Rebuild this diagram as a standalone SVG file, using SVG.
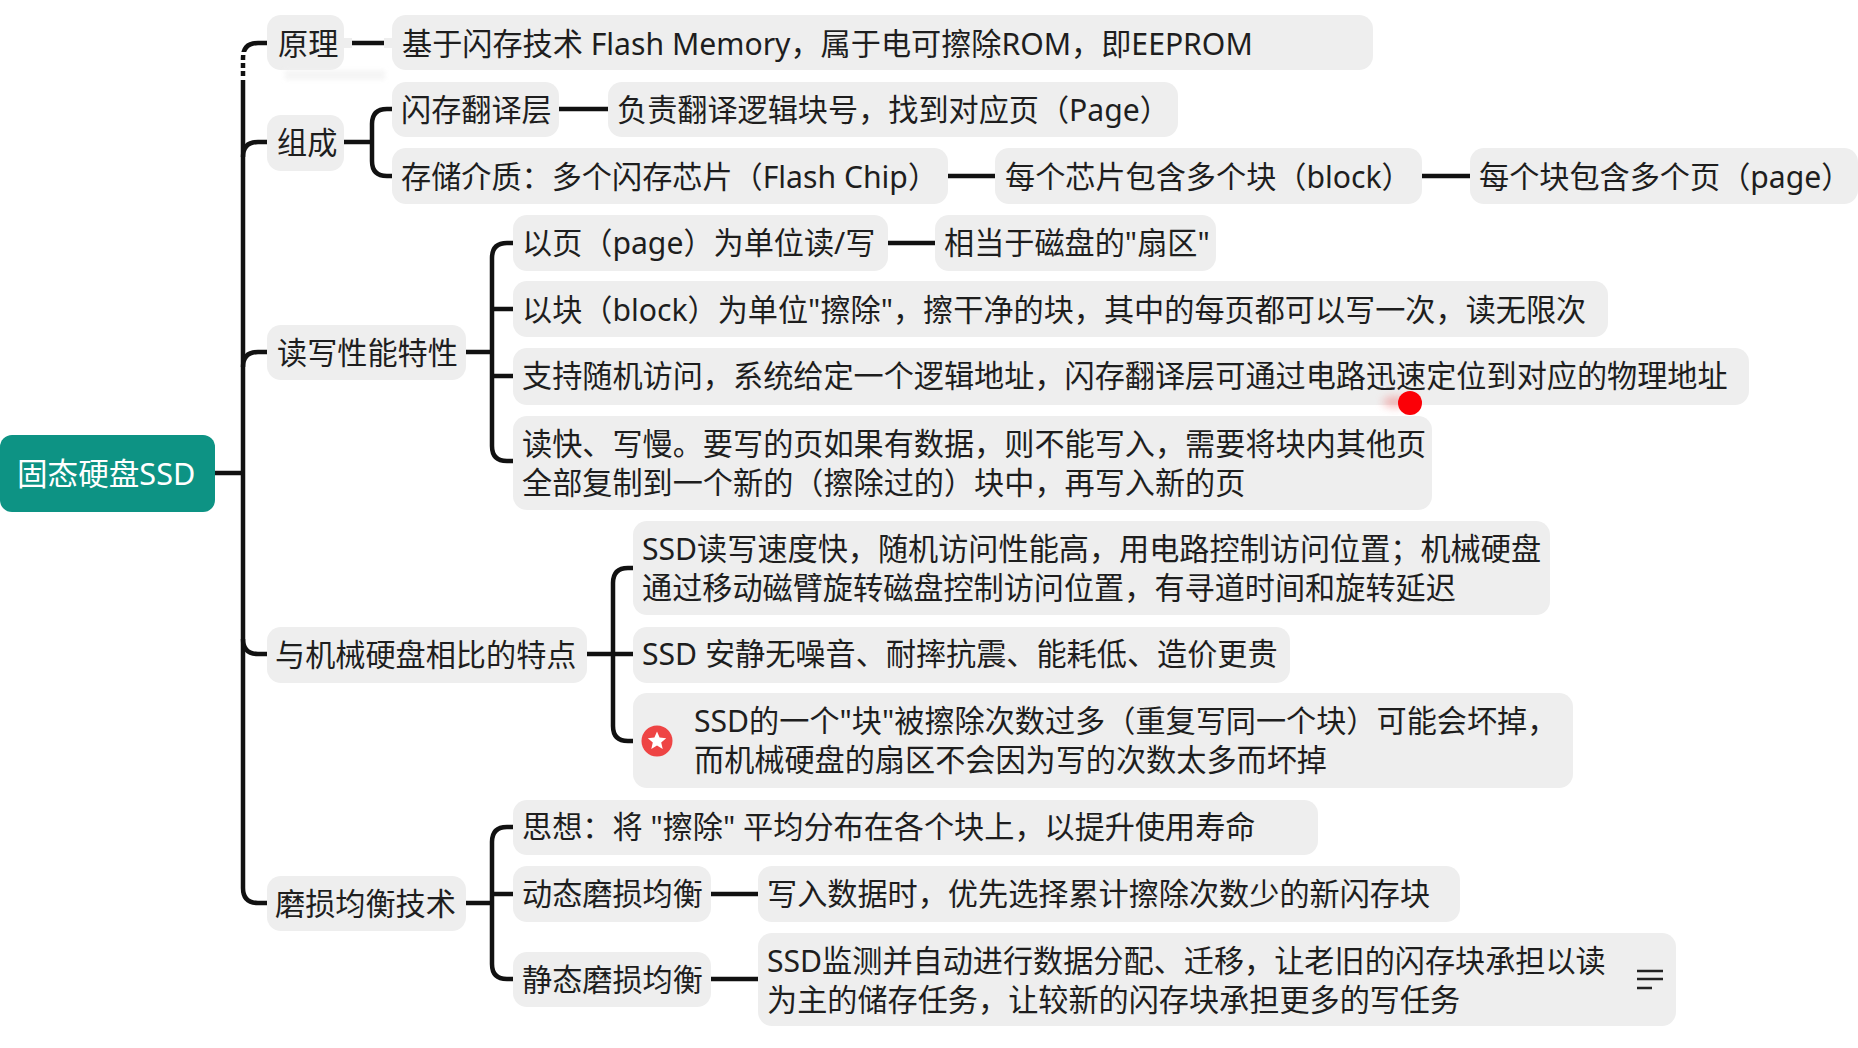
<svg xmlns="http://www.w3.org/2000/svg" width="1858" height="1048" viewBox="0 0 1858 1048">
<defs>
<style>
.n{fill:#eeeeee}
.t{font-family:"Noto Sans","Noto Sans CJK SC",sans-serif;font-size:30.15px;fill:#1e1e1e}
.c{fill:none;stroke:#111111;stroke-width:4.5;stroke-linecap:butt}
</style>
<filter id="b" x="-30%" y="-100%" width="160%" height="300%"><feGaussianBlur stdDeviation="4"/></filter>
<filter id="b2" x="-20%" y="-50%" width="140%" height="200%"><feGaussianBlur stdDeviation="2"/></filter>
</defs>
<rect width="1858" height="1048" fill="#ffffff"/>
<g id="connectors" class="c">
<path d="M215 473H243"/>
<path d="M267 43H258Q243 43 243 58V888Q243 903 258 903H267"/>
<path d="M243 157Q243 142 258 142H267"/>
<path d="M243 367Q243 352 258 352H267"/>
<path d="M243 639Q243 654 258 654H267"/>
<path d="M344 43H392"/>
<path d="M344 142H372"/>
<path d="M392 109H387Q372 109 372 124V161Q372 176 387 176H392"/>
<path d="M559 109H608"/>
<path d="M948 176H995"/>
<path d="M1422 176H1470"/>
<path d="M466 352H492"/>
<path d="M513 243H507Q492 243 492 258V446Q492 461 507 461H513"/>
<path d="M492 309H513M492 376H513"/>
<path d="M888 243H935"/>
<path d="M587 654H633"/>
<path d="M633 568H628Q613 568 613 583V726Q613 741 628 741H633"/>
<path d="M466 903H492"/>
<path d="M513 827H507Q492 827 492 842V964Q492 979 507 979H513"/>
<path d="M492 894H513"/>
<path d="M711 894H758"/>
<path d="M711 979H758"/>
</g>
<g id="root"><rect x="0" y="435" width="215" height="77" rx="12" fill="#0d9384"/><text x="17" y="485" class="t" style="fill:#ffffff;font-size:30.6px">固态硬盘SSD</text></g>
<g id="n1"><rect class="n" x="267" y="15" width="77" height="55" rx="14"/><text class="t" x="278" y="55">原理</text></g>
<g id="n2"><rect class="n" x="392" y="15" width="981" height="55" rx="14"/><text class="t" x="402" y="55">基于闪存技术 Flash Memory，属于电可擦除ROM，即EEPROM</text></g>
<g id="n3"><rect class="n" x="267" y="115" width="77" height="56" rx="14"/><text class="t" x="277" y="154">组成</text></g>
<g id="n4"><rect class="n" x="392" y="82" width="167" height="55" rx="14"/><text class="t" x="401" y="121">闪存翻译层</text></g>
<g id="n5"><rect class="n" x="608" y="82" width="570" height="55" rx="14"/><text class="t" x="617" y="121">负责翻译逻辑块号，找到对应页（Page）</text></g>
<g id="n6"><rect class="n" x="392" y="148" width="556" height="56" rx="14"/><text class="t" x="401" y="188">存储介质：多个闪存芯片（Flash Chip）</text></g>
<g id="n7"><rect class="n" x="995" y="148" width="427" height="56" rx="14"/><text class="t" x="1005" y="188">每个芯片包含多个块（block）</text></g>
<g id="n8"><rect class="n" x="1470" y="148" width="388" height="56" rx="14"/><text class="t" x="1479" y="188">每个块包含多个页（page）</text></g>
<g id="n9"><rect class="n" x="267" y="325" width="199" height="55" rx="14"/><text class="t" x="277" y="364">读写性能特性</text></g>
<g id="n10"><rect class="n" x="513" y="215" width="375" height="56" rx="14"/><text class="t" x="522" y="254">以页（page）为单位读/写</text></g>
<g id="n11"><rect class="n" x="935" y="215" width="281" height="56" rx="14"/><text class="t" x="944" y="254">相当于磁盘的"扇区"</text></g>
<g id="n12"><rect class="n" x="513" y="281" width="1095" height="56" rx="14"/><text class="t" x="522" y="321">以块（block）为单位"擦除"，擦干净的块，其中的每页都可以写一次，读无限次</text></g>
<g id="n13"><rect class="n" x="513" y="348" width="1236" height="57" rx="14"/><text class="t" x="522" y="387">支持随机访问，系统给定一个逻辑地址，闪存翻译层可通过电路迅速定位到对应的物理地址</text></g>
<g id="n14"><rect class="n" x="513" y="416" width="919" height="94" rx="14"/><text class="t" x="522" y="455">读快、写慢。要写的页如果有数据，则不能写入，需要将块内其他页</text><text class="t" x="522" y="494">全部复制到一个新的（擦除过的）块中，再写入新的页</text></g>
<g id="n15"><rect class="n" x="267" y="627" width="320" height="56" rx="14"/><text class="t" x="275" y="666">与机械硬盘相比的特点</text></g>
<g id="n16"><rect class="n" x="633" y="521" width="917" height="94" rx="14"/><text class="t" x="642" y="560">SSD读写速度快，随机访问性能高，用电路控制访问位置；机械硬盘</text><text class="t" x="642" y="599">通过移动磁臂旋转磁盘控制访问位置，有寻道时间和旋转延迟</text></g>
<g id="n17"><rect class="n" x="633" y="627" width="657" height="56" rx="14"/><text class="t" x="642" y="665">SSD 安静无噪音、耐摔抗震、能耗低、造价更贵</text></g>
<g id="n18"><rect class="n" x="633" y="693" width="940" height="95" rx="14"/><circle cx="657" cy="741" r="15.5" fill="#ee4444"/><polygon points="657,731.5 659.6,737.6 666.2,738.2 661.2,742.5 662.7,749 657,745.6 651.3,749 652.8,742.5 647.8,738.2 654.4,737.6" fill="#ffffff"/><text class="t" x="694" y="732">SSD的一个"块"被擦除次数过多（重复写同一个块）可能会坏掉，</text><text class="t" x="694" y="771">而机械硬盘的扇区不会因为写的次数太多而坏掉</text></g>
<g id="n19"><rect class="n" x="267" y="876" width="199" height="55" rx="14"/><text class="t" x="275" y="915">磨损均衡技术</text></g>
<g id="n20"><rect class="n" x="513" y="800" width="805" height="55" rx="14"/><text class="t" x="522" y="838">思想：将 "擦除" 平均分布在各个块上，以提升使用寿命</text></g>
<g id="n21"><rect class="n" x="513" y="866" width="198" height="56" rx="14"/><text class="t" x="522" y="905">动态磨损均衡</text></g>
<g id="n22"><rect class="n" x="758" y="866" width="702" height="56" rx="14"/><text class="t" x="767" y="905">写入数据时，优先选择累计擦除次数少的新闪存块</text></g>
<g id="n23"><rect class="n" x="513" y="952" width="198" height="55" rx="14"/><text class="t" x="522" y="991">静态磨损均衡</text></g>
<g id="n24"><rect class="n" x="758" y="933" width="918" height="93" rx="14"/><text class="t" x="767" y="972">SSD监测并自动进行数据分配、迁移，让老旧的闪存块承担以读</text><text class="t" x="767" y="1011">为主的储存任务，让较新的闪存块承担更多的写任务</text><path d="M1637 971H1663M1637 979H1663M1637 988H1652" fill="none" stroke="#222222" stroke-width="2.5"/></g>
<g id="pointer"><ellipse cx="1395" cy="402" rx="12" ry="5" fill="#f08080" opacity="0.6" filter="url(#b)"/><circle cx="1410" cy="403" r="12" fill="#fb0007"/></g>
<g id="ghost">
<rect x="236" y="52" width="14" height="3" fill="#ffffff"/><rect x="236" y="60" width="14" height="3" fill="#ffffff"/><rect x="236" y="68" width="14" height="3" fill="#ffffff"/><rect x="236" y="76" width="14" height="4" fill="#ffffff"/>
<rect x="344" y="38" width="8" height="10" fill="#eeeeee"/><rect x="384" y="38" width="8" height="10" fill="#eeeeee"/>
<path d="M285 70H385V80H285Z" fill="#f3f3f3" filter="url(#b2)" opacity="0.8"/>
</g>
</svg>
